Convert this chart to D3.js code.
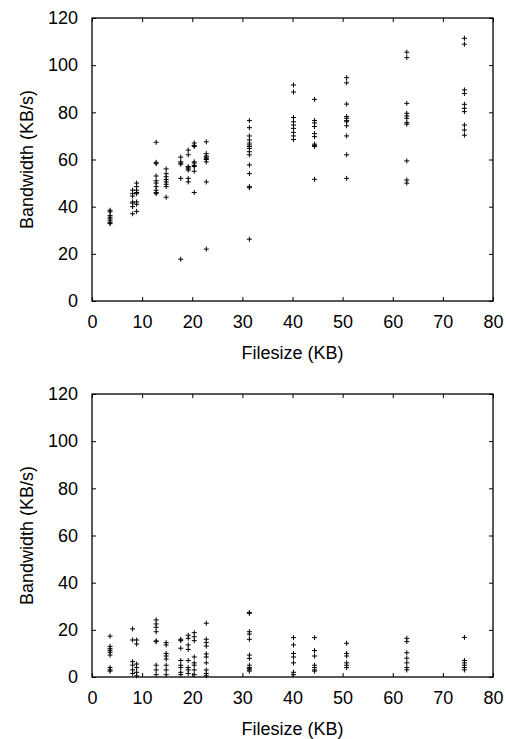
<!DOCTYPE html>
<html>
<head>
<meta charset="utf-8">
<script src="https://cdn.jsdelivr.net/npm/d3@7"></script>
<style>
  body { margin: 0; background: #fff; }
  svg text { font-family: "Liberation Sans", Arial, sans-serif; }
</style>
</head>
<body>
<div id="chart"></div>
<script>
// file sizes (KB) where measurements were taken
const fileSizes = [3.6, 8.1, 8.9, 12.8, 14.8, 17.7, 19.2, 20.4, 22.8, 31.4, 40.2, 44.4, 50.8, 62.8, 74.3];

// bandwidth samples (KB/s) per file size, upper panel
const bandwidthTop = [
  [38.5, 37.8, 36.2, 35.5, 34.8, 34, 33.2, 32.8],
  [47, 45.5, 44.5, 42, 41.5, 40, 37],
  [50, 48.5, 47, 46, 45.5, 42, 41, 38],
  [67.3, 58.8, 58.2, 53, 51, 50, 48.5, 47, 46, 45.5],
  [56, 54, 52.7, 51.5, 50.5, 49.5, 48.5, 44],
  [61, 59, 58.5, 58, 52, 17.7],
  [64, 62, 57, 56.5, 56, 55.5, 52, 50.5],
  [67, 66, 65.5, 59, 58.5, 57.5, 57, 55, 46],
  [67.5, 62.5, 61.5, 61, 60.5, 60, 59, 50.5, 22],
  [76.5, 73.5, 70, 68.3, 67, 66.2, 65.5, 64.7, 63.3, 62, 57.7, 54, 48.5, 48, 26.2],
  [91.6, 88.6, 77.8, 76, 74.6, 73.2, 71.5, 70, 68.5],
  [85.5, 76.5, 75.5, 74, 71, 69.7, 66.5, 66, 65.5, 51.6],
  [94.7, 92.5, 83.5, 78.2, 77.5, 76.5, 76, 74.3, 70, 62, 52],
  [105.5, 103.2, 83.8, 79.6, 78.5, 77.5, 75.6, 75, 59.4, 51.3, 50],
  [111.4, 108.9, 89.5, 88, 83.4, 81.7, 80.3, 74.6, 72.5, 70.3]
];

// bandwidth samples (KB/s) per file size, lower panel
const bandwidthBottom = [
  [17.3, 13, 12, 11.3, 10.5, 9.3, 4, 3, 2.5],
  [20.4, 15.7, 6.5, 5, 3, 1.5],
  [15.7, 14, 5.5, 4, 2, 0.5],
  [24.2, 22.5, 21.1, 19.2, 15.3, 15, 5, 3, 1],
  [14.6, 13.6, 10, 8.9, 7.6, 5, 3, 1],
  [16, 15.4, 12.2, 7, 5, 4, 2, 1],
  [17.7, 16.4, 13.6, 11.7, 7, 4, 3, 1.5],
  [18.8, 17.1, 15.4, 8.5, 6, 5, 3, 1],
  [22.8, 16, 14.6, 13.1, 9.8, 8.5, 6, 3, 1.5, 0.5],
  [27.4, 27, 19.2, 18.2, 16, 9.3, 7.9, 5, 4, 3.5, 3, 2.5],
  [16.7, 13.6, 10, 8.5, 6, 2, 1],
  [16.7, 11.2, 8.9, 5, 4, 3, 2.5],
  [14.3, 10, 8.9, 6, 5, 4],
  [16.4, 15, 10.3, 8, 6, 4, 3],
  [16.8, 7, 6, 5, 4, 3]
];

const xTicks = [0, 10, 20, 30, 40, 50, 60, 70, 80];
const yTicks = [0, 20, 40, 60, 80, 100, 120];
const xTitle = "Filesize (KB)";
const yTitle = "Bandwidth (KB/s)";

const W = 506, H = 739;
const margin = {left: 92, right: 13};
const plotW = W - margin.left - margin.right;
const plotH = 283;
const panelTops = [18, 394];

const svg = d3.select("#chart").append("svg")
    .attr("width", W)
    .attr("height", H);

const x = d3.scaleLinear().domain([0, 80]).range([0, plotW]);
const y = d3.scaleLinear().domain([0, 120]).range([plotH, 0]);

function flatten(series) {
  let pts = [];
  series.forEach((vals, i) => {
    vals.forEach(v => pts.push({size: fileSizes[i], bw: v}));
  });
  return pts;
}

function drawPanel(top, series) {
  const g = svg.append("g")
      .attr("transform", `translate(${margin.left},${top})`);

  // inward ticks on all four sides
  g.append("g")
      .attr("transform", `translate(0,${plotH})`)
      .call(d3.axisBottom(x).tickValues(xTicks).tickSizeInner(-4).tickSizeOuter(0).tickPadding(14));
  g.append("g")
      .call(d3.axisTop(x).tickValues(xTicks).tickSizeInner(-4).tickSizeOuter(0).tickFormat(""));
  g.append("g")
      .call(d3.axisLeft(y).tickValues(yTicks).tickSizeInner(-4).tickSizeOuter(0).tickPadding(14));
  g.append("g")
      .attr("transform", `translate(${plotW},0)`)
      .call(d3.axisRight(y).tickValues(yTicks).tickSizeInner(-4).tickSizeOuter(0).tickFormat(""));

  g.selectAll(".domain").remove();
  g.selectAll(".tick line").attr("stroke", "#000");
  g.selectAll(".tick text")
      .attr("fill", "#000")
      .style("font-size", "18px");

  g.append("rect")
      .attr("width", plotW)
      .attr("height", plotH)
      .attr("fill", "none")
      .attr("stroke", "#000")
      .attr("stroke-width", 1.3);

  // axis titles
  g.append("text")
      .attr("x", plotW / 2)
      .attr("y", plotH + 58)
      .attr("text-anchor", "middle")
      .style("font-size", "18px")
      .text(xTitle);

  g.append("text")
      .attr("transform", `translate(${33 - margin.left},${plotH / 2}) rotate(-90)`)
      .attr("text-anchor", "middle")
      .style("font-size", "18px")
      .text(yTitle);

  // '+' markers
  g.selectAll(".pt")
    .data(flatten(series))
    .join("path")
      .attr("class", "pt")
      .attr("transform", d => `translate(${x(d.size)},${y(d.bw)})`)
      .attr("d", "M-2.5,0H2.5M0,-2.5V2.5")
      .attr("stroke", "#000")
      .attr("stroke-width", 1)
      .attr("fill", "none");
}

drawPanel(panelTops[0], bandwidthTop);
drawPanel(panelTops[1], bandwidthBottom);
</script>
</body>
</html>
